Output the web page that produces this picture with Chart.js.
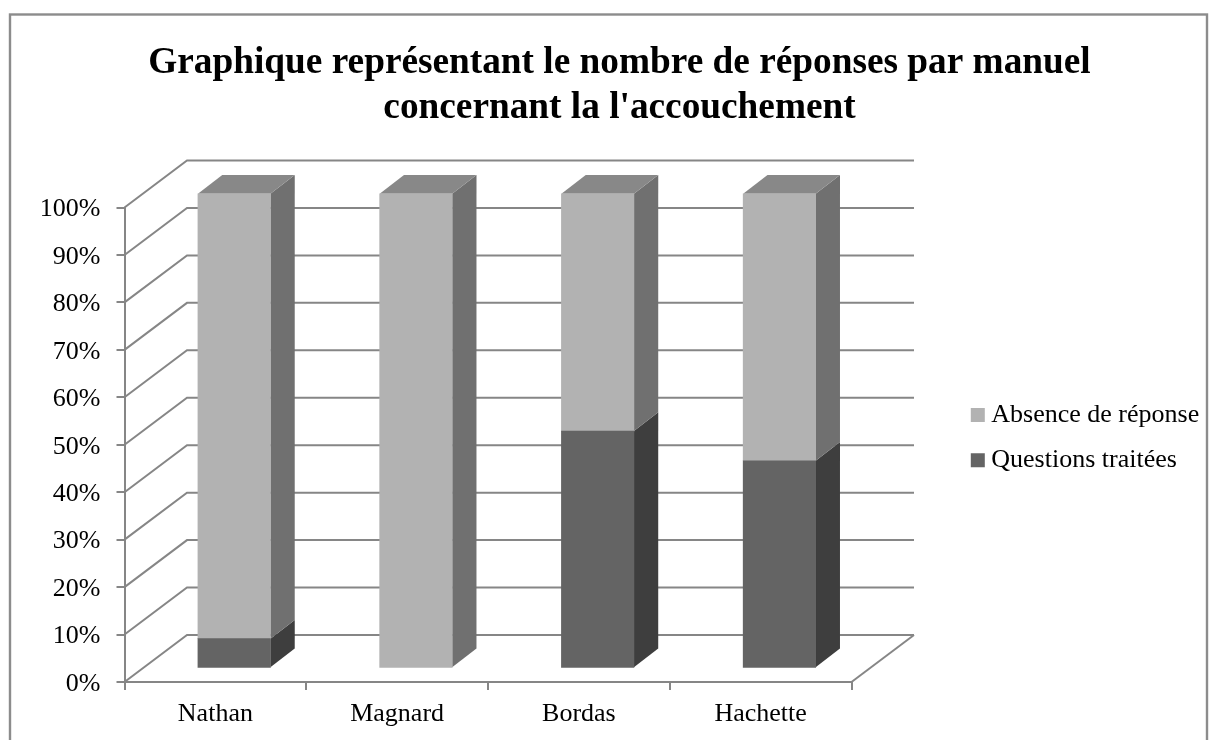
<!DOCTYPE html>
<html lang="fr">
<head>
<meta charset="utf-8">
<style>
html,body{margin:0;padding:0;background:#fff;overflow:hidden}
#wrap{position:absolute;left:0;top:0;width:1217px;height:740px}
</style>
<script src="https://cdn.jsdelivr.net/npm/chart.js@4/dist/chart.umd.min.js"></script>
</head>
<body>
<div id="wrap"><canvas id="c" width="1217" height="740"></canvas></div>
<script>
const titleLines = ["Graphique représentant le nombre de réponses par manuel", "concernant la l'accouchement"];
const categories = ["Nathan", "Magnard", "Bordas", "Hachette"];
const questionsTraitees = [6.25, 0, 50, 43.75];
const absenceDeReponse = [93.75, 100, 50, 56.25];
const seriesNames = ["Questions traitées", "Absence de réponse"];
const faceColors = ["#646464", "#b2b2b2"];
const sideColors = ["#3e3e3e", "#707070"];
const topColor = "#888888";
const gridColor = "#868686";
const serif = "'Liberation Serif','Times New Roman',serif";

const WALL = {dx: 62.5, dy: 47};
const BAR = {dx: 18.8, dy: 13.7, sideX: 24.3, sideY: 18.7};

function poly(ctx, pts, fill) {
  ctx.beginPath();
  pts.forEach((p, i) => i ? ctx.lineTo(p[0], p[1]) : ctx.moveTo(p[0], p[1]));
  ctx.closePath();
  ctx.fillStyle = fill;
  ctx.fill();
}

const frame3d = {
  id: "frame3d",
  beforeLayout(chart) {
    const l = chart.legend;
    if (!l._fixedFit) {
      const fit = l.fit;
      l.fit = function () { fit.call(this); this.width = 365.5; };
      l._fixedFit = true;
    }
  },
  afterLayout(chart) {
    const l = chart.legend;
    l.left = 958; l.top = 382.7; l.right = 1217; l.bottom = 740;
    chart.scales.y.getLabelItems(chart.chartArea).forEach(item => { item.options.translation[1] += 2; });
  },
  beforeDraw(chart) {
    const ctx = chart.ctx;
    ctx.save();
    ctx.strokeStyle = "#8c8c8c";
    ctx.lineWidth = 2.4;
    ctx.strokeRect(10, 14.5, 1197, 760);
    ctx.restore();
  },
  beforeDatasetsDraw(chart) {
    const ctx = chart.ctx, y = chart.scales.y, a = chart.chartArea;
    ctx.save();
    ctx.strokeStyle = gridColor;
    ctx.lineWidth = 2;
    y.ticks.forEach(t => {
      const py = y.getPixelForValue(t.value);
      ctx.beginPath();
      ctx.moveTo(a.left, py);
      ctx.lineTo(a.left + WALL.dx, py - WALL.dy);
      ctx.lineTo(a.right + WALL.dx, py - WALL.dy);
      ctx.stroke();
    });
    const by = y.getPixelForValue(0);
    ctx.beginPath();
    ctx.moveTo(a.right, by);
    ctx.lineTo(a.right + WALL.dx, by - WALL.dy);
    ctx.stroke();
    ctx.restore();

    ctx.save();
    ctx.translate(BAR.dx, -BAR.dy);
    chart.data.datasets.forEach((ds, di) => {
      chart.getDatasetMeta(di).data.forEach((el, i) => {
        if (!ds.data[i]) return;
        const r = el.x + el.width / 2, l = el.x - el.width / 2;
        poly(ctx, [[r, el.y], [r + BAR.sideX, el.y - BAR.sideY], [r + BAR.sideX, el.base - BAR.sideY], [r, el.base]], sideColors[di]);
        if (di === chart.data.datasets.length - 1) {
          poly(ctx, [[l, el.y], [l + BAR.sideX, el.y - BAR.sideY], [r + BAR.sideX, el.y - BAR.sideY], [r, el.y]], topColor);
        }
      });
    });
  },
  afterDatasetsDraw(chart) {
    chart.ctx.restore();
  }
};

const faceFill = di => c => (c.raw ? faceColors[di] : "rgba(0,0,0,0)");

new Chart(document.getElementById("c"), {
  type: "bar",
  data: {
    labels: categories,
    datasets: [
      {label: seriesNames[0], data: questionsTraitees, backgroundColor: faceColors[0], clip: false, barThickness: 72.5, borderWidth: 0},
      {label: seriesNames[1], data: absenceDeReponse, backgroundColor: faceColors[1], clip: false, barThickness: 72.5, borderWidth: 0}
    ]
  },
  plugins: [frame3d],
  options: {
    responsive: false,
    animation: false,
    layout: {padding: {left: 22, right: 0, top: 0, bottom: 0}},
    datasets: {bar: {}},
    plugins: {
      title: {
        display: true,
        text: titleLines,
        color: "#000",
        font: {family: serif, size: 37.3, weight: "bold", lineHeight: 1.2},
        padding: {top: 41, bottom: 77}
      },
      legend: {
        display: true,
        position: "right",
        align: "start",
        reverse: true,
        labels: {
          usePointStyle: true,
          pointStyle: "rect",
          boxWidth: 1,
          boxHeight: 14,
          padding: 19.3,
          color: "#000",
          font: {family: serif, size: 26},
          generateLabels(chart) {
            return seriesNames.map((name, i) => ({
              text: name, fillStyle: faceColors[i], strokeStyle: faceColors[i],
              lineWidth: 0, pointStyle: "rect", datasetIndex: i, fontColor: "#000"
            }));
          }
        }
      },
      tooltip: {enabled: false}
    },
    scales: {
      x: {
        stacked: true,
        border: {display: true, color: gridColor, width: 2},
        grid: {drawOnChartArea: false, drawTicks: true, tickLength: 8, color: gridColor, lineWidth: 2},
        ticks: {color: "#000", font: {family: serif, size: 26}, maxRotation: 0, padding: 9},
        afterFit(s) { s.height = 58; }
      },
      y: {
        stacked: true,
        min: 0, max: 100,
        border: {display: true, color: gridColor, width: 2},
        grid: {drawOnChartArea: false, drawTicks: true, tickLength: 8, color: gridColor, lineWidth: 2},
        ticks: {stepSize: 10, color: "#000", font: {family: serif, size: 26}, padding: 16, callback: v => v + "%"},
        afterFit(s) { s.width = 102.5; }
      }
    }
  }
});
// Zero-height stacks paint nothing: scriptable fill applied once the config exists.
Chart.getChart("c").data.datasets.forEach((ds, i) => { ds.backgroundColor = faceFill(i); });
Chart.getChart("c").update();
</script>
</body>
</html>
